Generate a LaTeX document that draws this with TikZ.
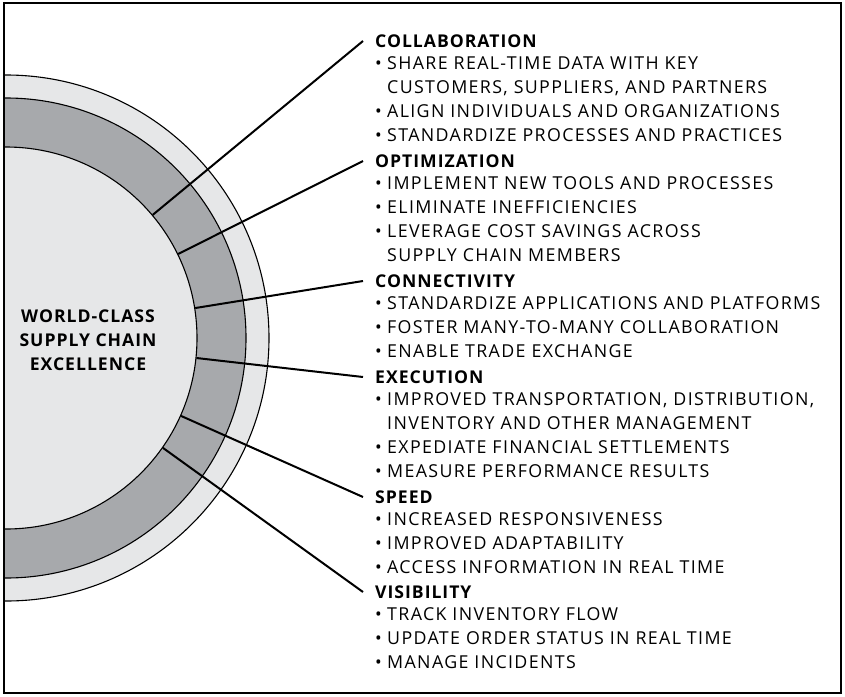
\documentclass[tikz,border=0pt]{standalone}
\usepackage{fontspec}
\setmainfont{Open Sans}[LetterSpace=7.6]
\usepackage{xcolor}
\usepackage{tikz}
\usetikzlibrary{positioning}

\definecolor{ringlight}{HTML}{E6E7E8}
\definecolor{ringdark}{HTML}{A7A9AC}

\newcommand{\bl}{\makebox[12pt][l]{\textbullet}}
\newcommand{\ind}{\hspace*{12pt}}
\newcommand{\headfont}{\fontsize{17.6}{24}\selectfont\bfseries\addfontfeatures{LetterSpace=5.6}}

\begin{document}
\begin{tikzpicture}[
  x=1pt, y=-1pt,
  head/.style={anchor=west, inner sep=0pt, text height=12.7pt, text depth=0pt,
    font=\headfont},
  items/.style={align=left, inner sep=0pt, font=\fontsize{17.8}{24}\selectfont},
  link/.style={line width=2pt},
  ring/.style={draw, line width=1.1pt}
]
\useasboundingbox (0,0) rectangle (845,696);
\coordinate (ctr) at (6,338);

% rings, cut off by the frame on the left
\begin{scope}
  \clip (4,3) rectangle (841,693);
  \draw[ring, fill=ringlight] (ctr) circle (263);
  \draw[ring, fill=ringdark] (ctr) circle (240);
  \node[ring, fill=ringlight, circle, minimum size=382pt, inner sep=0pt] (core) at (ctr) {};
\end{scope}
\draw[line width=2.5pt] (4,3) rectangle (841,693);

\node[items, font=\headfont, align=center] (title) at (88,340)
  {WORLD-CLASS\\SUPPLY CHAIN\\EXCELLENCE};

% headings and their points
\node[head] (hd1) at (375,41) {COLLABORATION};
\node[items, below right=8.5pt and 0pt of hd1.south west] (it1)
  {\bl SHARE REAL-TIME DATA WITH KEY\\
   \ind CUSTOMERS, SUPPLIERS, AND PARTNERS\\
   \bl ALIGN INDIVIDUALS AND ORGANIZATIONS\\
   \bl STANDARDIZE PROCESSES AND PRACTICES};
\node[head] (hd2) at (375,161) {OPTIMIZATION};
\node[items, below right=8.5pt and 0pt of hd2.south west] (it2)
  {\bl IMPLEMENT NEW TOOLS AND PROCESSES\\
   \bl ELIMINATE INEFFICIENCIES\\
   \bl LEVERAGE COST SAVINGS ACROSS\\
   \ind SUPPLY CHAIN MEMBERS};
\node[head] (hd3) at (375,281) {CONNECTIVITY};
\node[items, below right=8.5pt and 0pt of hd3.south west] (it3)
  {\bl STANDARDIZE APPLICATIONS AND PLATFORMS\\
   \bl FOSTER MANY-TO-MANY COLLABORATION\\
   \bl ENABLE TRADE EXCHANGE};
\node[head] (hd4) at (375,377) {EXECUTION};
\node[items, below right=8.5pt and 0pt of hd4.south west] (it4)
  {\bl IMPROVED TRANSPORTATION, DISTRIBUTION,\\
   \ind INVENTORY AND OTHER MANAGEMENT\\
   \bl EXPEDIATE FINANCIAL SETTLEMENTS\\
   \bl MEASURE PERFORMANCE RESULTS};
\node[head] (hd5) at (375,497) {SPEED};
\node[items, below right=8.5pt and 0pt of hd5.south west] (it5)
  {\bl INCREASED RESPONSIVENESS\\
   \bl IMPROVED ADAPTABILITY\\
   \bl ACCESS INFORMATION IN REAL TIME};
\node[head] (hd6) at (375,592) {VISIBILITY};
\node[items, below right=8.5pt and 0pt of hd6.south west] (it6)
  {\bl TRACK INVENTORY FLOW\\
   \bl UPDATE ORDER STATUS IN REAL TIME\\
   \bl MANAGE INCIDENTS};

% spokes from the core to each heading
\foreach \a/\h in {40/hd1,26.3/hd2,9.3/hd3,-6.3/hd4,-24.1/hd5,-35.6/hd6}
  \draw[link] (core.\a) -- ([xshift=-12pt]\h.west);
\end{tikzpicture}
\end{document}
